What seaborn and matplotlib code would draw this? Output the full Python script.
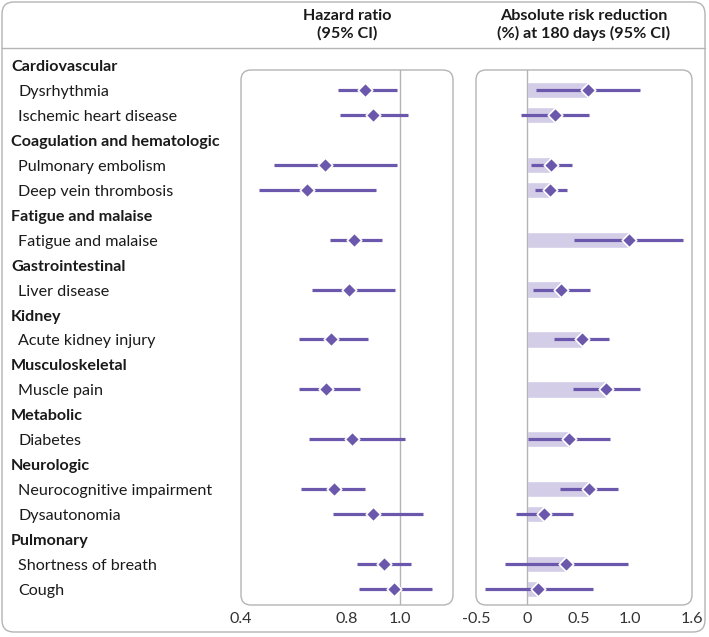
import numpy as np
import pandas as pd
import seaborn as sns
import matplotlib.pyplot as plt
from matplotlib.patches import FancyBboxPatch
from matplotlib.lines import Line2D
from matplotlib.transforms import IdentityTransform, blended_transform_factory

# data
groups = ["Cardiovascular", "Coagulation and hematologic", "Fatigue and malaise",
          "Gastrointestinal", "Kidney", "Musculoskeletal", "Metabolic",
          "Neurologic", "Pulmonary"]
outcomes = ["Dysrhythmia", "Ischemic heart disease", "Pulmonary embolism",
            "Deep vein thrombosis", "Fatigue and malaise", "Liver disease",
            "Acute kidney injury", "Muscle pain", "Diabetes",
            "Neurocognitive impairment", "Dysautonomia",
            "Shortness of breath", "Cough"]
outcome_group = ["Cardiovascular", "Cardiovascular", "Coagulation and hematologic",
                 "Coagulation and hematologic", "Fatigue and malaise",
                 "Gastrointestinal", "Kidney", "Musculoskeletal", "Metabolic",
                 "Neurologic", "Neurologic", "Pulmonary", "Pulmonary"]
hr = [0.869, 0.897, 0.718, 0.648, 0.828, 0.808, 0.738, 0.719, 0.819, 0.750, 0.899, 0.940, 0.977]
hr_lo = [0.767, 0.774, 0.526, 0.468, 0.737, 0.667, 0.619, 0.619, 0.657, 0.628, 0.747, 0.839, 0.846]
hr_hi = [0.990, 1.031, 0.990, 0.909, 0.931, 0.981, 0.880, 0.850, 1.019, 0.868, 1.088, 1.040, 1.122]
arr = [0.586, 0.269, 0.233, 0.223, 0.984, 0.330, 0.534, 0.764, 0.401, 0.595, 0.165, 0.379, 0.107]
arr_lo = [0.087, -0.065, 0.039, 0.074, 0.453, 0.055, 0.262, 0.440, 0.006, 0.314, -0.110, -0.214, -0.417]
arr_hi = [1.097, 0.595, 0.434, 0.382, 1.511, 0.612, 0.790, 1.094, 0.799, 0.880, 0.440, 0.974, 0.638]

# row layout: each group header followed by its outcomes
header_rows = []
item_rows = []
r = 0
for g in groups:
    header_rows.append(r)
    r += 1
    for o, og in zip(outcomes, outcome_group):
        if og == g:
            item_rows.append(r)
            r += 1

df = pd.DataFrame({"outcome": outcomes, "row": item_rows, "hr": hr, "hr_lo": hr_lo,
                   "hr_hi": hr_hi, "arr": arr, "arr_lo": arr_lo, "arr_hi": arr_hi})

sns.set_theme(style="white")
plt.rcParams["font.family"] = ["Lato", "DejaVu Sans"]

purple = "#6b58ac"
lilac = "#d3cde8"
grey = "#b4b4b4"
txt = "#1a1a1a"
fs = 11.6

W, H = 709, 637
fig = plt.figure(figsize=(W / 100, H / 100), dpi=100)


def px(x0, y0, w, h):
    return [x0 / W, 1 - (y0 + h) / H, w / W, h / H]


ax1 = fig.add_axes(px(241, 70, 212, 535))
ax2 = fig.add_axes(px(476, 70, 216, 535))

# hazard ratio panel
ax1.axvline(1.0, color=grey, lw=1, zorder=1)
ax1.hlines(df["row"], df["hr_lo"], df["hr_hi"], color=purple, lw=2.3, zorder=2)
sns.scatterplot(data=df, x="hr", y="row", marker="D", s=55, color=purple,
                edgecolor="white", linewidth=1.2, zorder=3, ax=ax1, legend=False)
ax1.set_xlim(0.4, 1.2)
ax1.set_xticks([0.4, 0.8, 1.0], ["0.4", "0.8", "1.0"])

# absolute risk reduction panel
ax2.barh(df["row"], df["arr"], height=0.65, color=lilac, zorder=1)
ax2.axvline(0, color=grey, lw=1, zorder=1.5)
ax2.hlines(df["row"], df["arr_lo"], df["arr_hi"], color=purple, lw=2.3, zorder=2)
sns.scatterplot(data=df, x="arr", y="row", marker="D", s=55, color=purple,
                edgecolor="white", linewidth=1.2, zorder=3, ax=ax2, legend=False)
ax2.set_xlim(-0.5, 1.6)
ax2.set_xticks([-0.5, 0, 0.5, 1.0, 1.6], ["-0.5", "0", "0.5", "1.0", "1.6"])

for ax in (ax1, ax2):
    ax.set_ylim(21.64, 0.2)
    ax.set_yticks([])
    ax.set_xlabel("")
    ax.set_ylabel("")
    ax.patch.set_alpha(0)
    for s in ax.spines.values():
        s.set_visible(False)
    ax.tick_params(axis="x", direction="in", length=3, width=1, color=grey,
                   pad=5, labelsize=fs, labelcolor="#333333")
    # rounded frame around each panel
    pos = ax.get_position()
    fig.add_artist(FancyBboxPatch((pos.x0 * W, pos.y0 * H), pos.width * W, pos.height * H,
                                  boxstyle="round,pad=0,rounding_size=10",
                                  transform=IdentityTransform(), fill=False,
                                  ec=grey, lw=1, zorder=5))

# row labels (nudged slightly down to sit level with the marks)
tr = blended_transform_factory(fig.transFigure, ax1.transData)
for g, rr in zip(groups, header_rows):
    ax1.text(11 / W, rr + 0.08, g, transform=tr, ha="left", va="center",
             fontsize=fs, fontweight="bold", color=txt)
for o, rr in zip(outcomes, item_rows):
    ax1.text(18 / W, rr + 0.08, o, transform=tr, ha="left", va="center",
             fontsize=fs, color=txt)

# column headers
fig.text(347 / W, 1 - 16 / H, "Hazard ratio", ha="center", va="center",
         fontsize=fs, fontweight="bold", color=txt)
fig.text(347 / W, 1 - 33 / H, "(95% CI)", ha="center", va="center",
         fontsize=fs, fontweight="bold", color=txt)
fig.text(584 / W, 1 - 16 / H, "Absolute risk reduction", ha="center", va="center",
         fontsize=fs, fontweight="bold", color=txt)
fig.text(584 / W, 1 - 33 / H, "(%) at 180 days (95% CI)", ha="center", va="center",
         fontsize=fs, fontweight="bold", color=txt)

# outer frame and header rule
fig.add_artist(FancyBboxPatch((2, H - 632), 703, 630, boxstyle="round,pad=0,rounding_size=12",
                              transform=IdentityTransform(), fill=False, ec=grey, lw=1))
fig.add_artist(Line2D([2, 705], [H - 48, H - 48], transform=IdentityTransform(),
                      color=grey, lw=1))

fig.savefig("out.png", dpi=100)
